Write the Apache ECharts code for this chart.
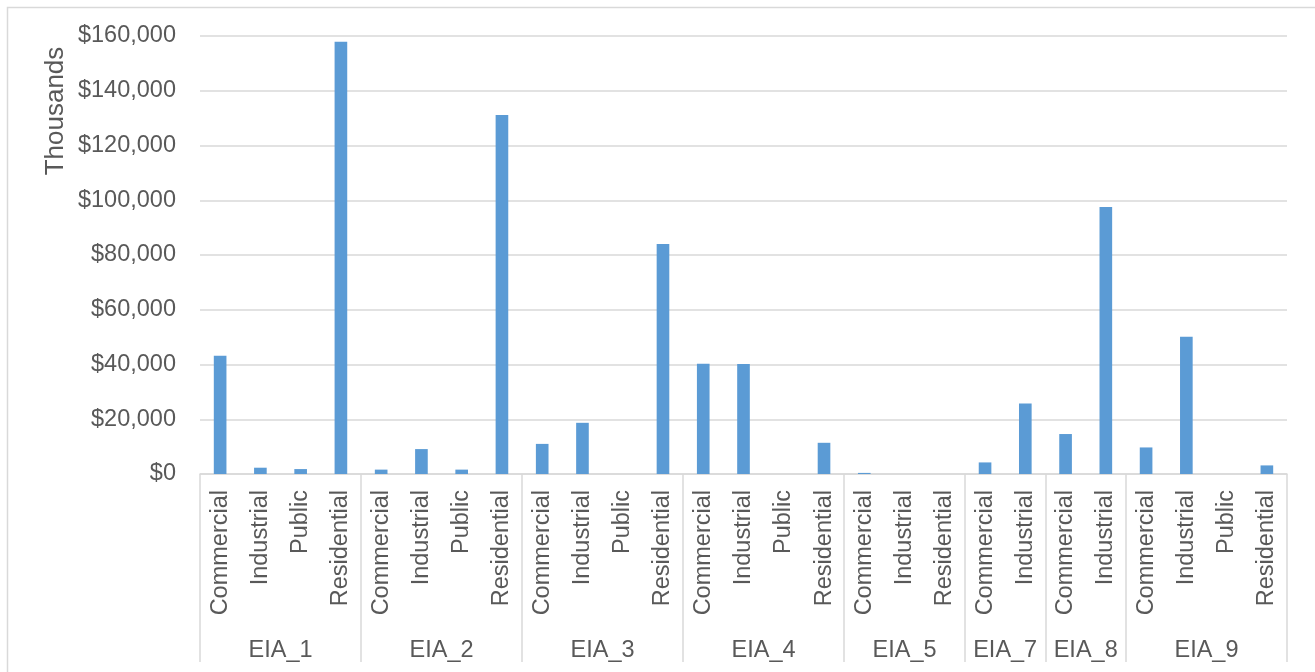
<!DOCTYPE html>
<html>
<head>
<meta charset="utf-8">
<title>Cost by sector and region</title>
<script src="https://cdn.jsdelivr.net/npm/echarts@6/dist/echarts.min.js"></script>
<style>
  html, body { margin: 0; padding: 0; background: #ffffff; }
  #chart { width: 1315px; height: 672px; }
</style>
</head>
<body>
<div id="chart"></div>
<script>
// Regions (outer axis level) and the sectors reported in each (inner level)
const groups = ['EIA_1', 'EIA_2', 'EIA_3', 'EIA_4', 'EIA_5', 'EIA_7', 'EIA_8', 'EIA_9'];
const sectorsEIA1 = ['Commercial', 'Industrial', 'Public', 'Residential'];
const sectorsEIA2 = ['Commercial', 'Industrial', 'Public', 'Residential'];
const sectorsEIA3 = ['Commercial', 'Industrial', 'Public', 'Residential'];
const sectorsEIA4 = ['Commercial', 'Industrial', 'Public', 'Residential'];
const sectorsEIA5 = ['Commercial', 'Industrial', 'Residential'];
const sectorsEIA7 = ['Commercial', 'Industrial'];
const sectorsEIA8 = ['Commercial', 'Industrial'];
const sectorsEIA9 = ['Commercial', 'Industrial', 'Public', 'Residential'];

// Values in thousands of dollars, per region, in sector order
const valuesEIA1 = [43200, 2300, 1800, 157900];
const valuesEIA2 = [1600, 9100, 1600, 131100];
const valuesEIA3 = [11000, 18700, 0, 84050];
const valuesEIA4 = [40250, 40150, 0, 11400];
const valuesEIA5 = [400, 0, 0];
const valuesEIA7 = [4230, 25770];
const valuesEIA8 = [14600, 97550];
const valuesEIA9 = [9700, 50100, 0, 3140];

// Value axis ticks
const yMin = 0;
const yMax = 160000;
const yStep = 20000;
const yAxisTitle = 'Thousands';

const sectorLists = [sectorsEIA1, sectorsEIA2, sectorsEIA3, sectorsEIA4, sectorsEIA5, sectorsEIA7, sectorsEIA8, sectorsEIA9];
const valueLists = [valuesEIA1, valuesEIA2, valuesEIA3, valuesEIA4, valuesEIA5, valuesEIA7, valuesEIA8, valuesEIA9];

const categories = sectorLists.flat();
const values = valueLists.flat();

// Group boundaries and centres, in category units along the x axis
const boundaries = [0];
const centers = [];
sectorLists.forEach(function (list) {
  const start = boundaries[boundaries.length - 1];
  centers.push(start + list.length / 2);
  boundaries.push(start + list.length);
});

const FONT = "'Liberation Sans', Arial, sans-serif";
const TEXT = '#595959';
const LINE = '#D9D9D9';

const chart = echarts.init(document.getElementById('chart'), null, { renderer: 'canvas' });

chart.setOption({
  animation: false,
  backgroundColor: '#ffffff',
  textStyle: { fontFamily: FONT },
  grid: {
    left: 200, right: 28, top: 36, bottom: 198,
    outerBoundsMode: 'none'
  },
  graphic: [
    {
      type: 'rect',
      shape: { x: 7.5, y: 7.5, width: 1400, height: 800 },
      style: { fill: 'none', stroke: LINE, lineWidth: 1.5 },
      silent: true, z: -10
    },
    {
      type: 'text',
      x: 56, y: 111,
      rotation: Math.PI / 2,
      style: {
        text: yAxisTitle,
        fill: TEXT,
        font: '26px ' + FONT,
        textAlign: 'center',
        textVerticalAlign: 'middle'
      }
    }
  ],
  xAxis: [
    {
      type: 'category',
      data: categories,
      boundaryGap: true,
      axisLine: { show: true, lineStyle: { color: LINE, width: 1.5 } },
      axisTick: { show: false },
      axisLabel: {
        interval: 0,
        rotate: 90,
        margin: 16,
        color: TEXT,
        fontSize: 23.5,
        fontFamily: FONT
      },
      splitLine: { show: false }
    },
    {
      type: 'value',
      position: 'bottom',
      min: 0,
      max: categories.length,
      axisLine: { show: false },
      splitLine: { show: false },
      axisTick: {
        show: true,
        inside: false,
        length: 188,
        customValues: boundaries,
        lineStyle: { color: LINE, width: 1.5 }
      },
      axisLabel: {
        show: true,
        margin: 165,
        customValues: centers,
        color: TEXT,
        fontSize: 23.5,
        fontFamily: FONT,
        formatter: function (v) {
          const i = centers.indexOf(v);
          return i >= 0 ? groups[i] : '';
        }
      }
    }
  ],
  yAxis: {
    type: 'value',
    min: yMin,
    max: yMax,
    interval: yStep,
    axisLine: { show: false },
    axisTick: { show: false },
    axisLabel: {
      margin: 24,
      color: TEXT,
      fontSize: 23.5,
      fontFamily: FONT,
      formatter: function (v) { return '$' + v.toLocaleString('en-US'); }
    },
    splitLine: { show: true, lineStyle: { color: LINE, width: 1.5 } }
  },
  series: [
    {
      type: 'bar',
      xAxisIndex: 0,
      data: values,
      barWidth: '31.4%',
      itemStyle: { color: '#5B9BD5' }
    }
  ]
});
</script>
</body>
</html>
